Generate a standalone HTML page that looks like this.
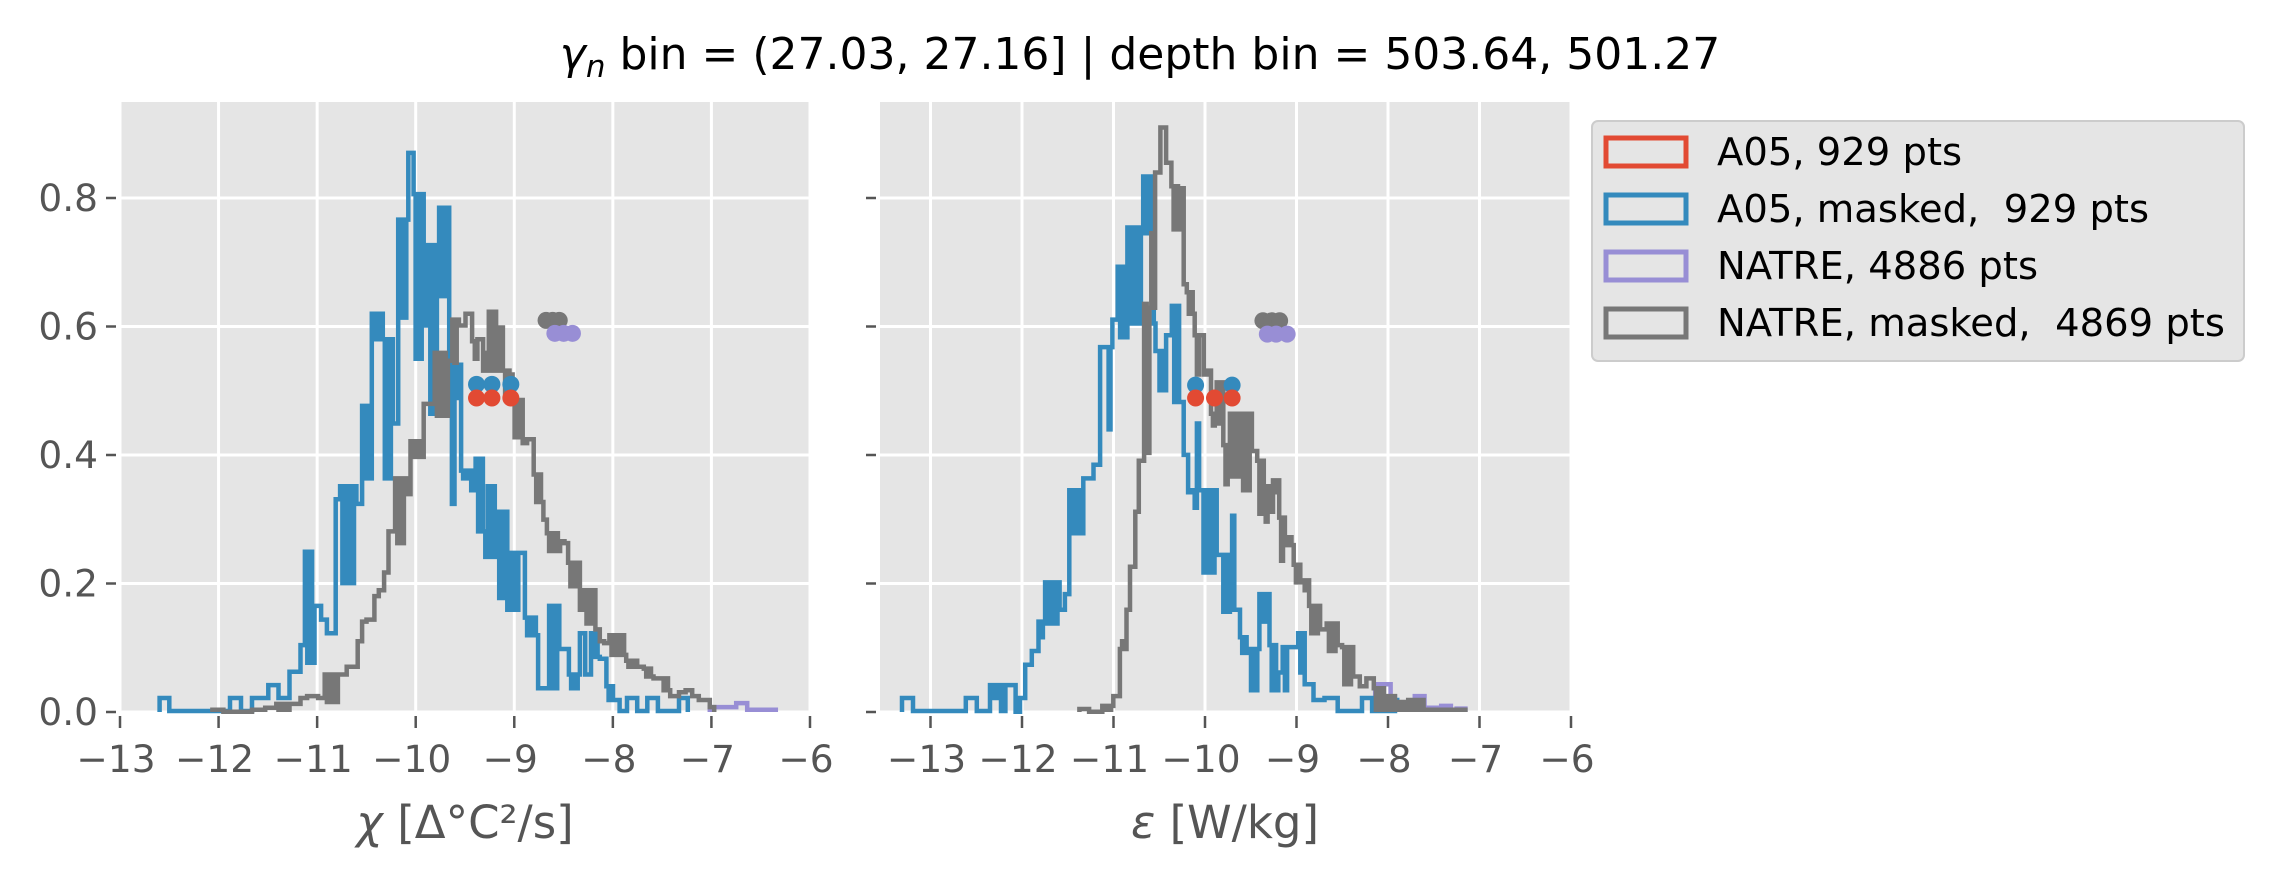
<!DOCTYPE html>
<html><head><meta charset="utf-8"><style>
html,body{margin:0;padding:0;background:#fff;}
svg{display:block;}
text{font-family:"DejaVu Sans","Liberation Sans",sans-serif;}
</style></head><body>
<svg id="s" width="2272" height="872" viewBox="0 0 2272 872" xmlns="http://www.w3.org/2000/svg">
<rect width="2272" height="872" fill="#fff"/>
<rect x="120" y="102" width="690" height="611" fill="#e5e5e5"/>
<rect x="880" y="102" width="691" height="611" fill="#e5e5e5"/>
<g id="grid" stroke="#fff" stroke-width="3"></g>
<g id="series"></g>
<g id="ticks" stroke="#555" stroke-width="2.5"></g>
<g id="labels" fill="#555" font-size="37.5"></g>
<text x="1140" y="69" font-size="44" fill="#000" text-anchor="middle"><tspan font-style="italic">γ</tspan><tspan font-style="italic" font-size="31" dy="8">n</tspan><tspan dy="-8"> bin = (27.03, 27.16] | depth bin = 503.64, 501.27</tspan></text>
<text x="465" y="838" font-size="45" fill="#555" text-anchor="middle"><tspan font-style="italic">χ</tspan> [Δ°C²/s]</text>
<text x="1225" y="838" font-size="45" fill="#555" text-anchor="middle"><tspan font-style="italic">ε</tspan> [W/kg]</text>
<rect x="1592" y="121" width="652" height="240" rx="6" fill="#e5e5e5" stroke="#cccccc" stroke-width="2"/>
<rect x="1606" y="138" width="80" height="28" fill="none" stroke="#e24a33" stroke-width="5"/>
<rect x="1606" y="195" width="80" height="28" fill="none" stroke="#348abd" stroke-width="5"/>
<rect x="1606" y="252" width="80" height="28" fill="none" stroke="#988ed5" stroke-width="5"/>
<rect x="1606" y="309" width="80" height="28" fill="none" stroke="#777777" stroke-width="5"/>
<g font-size="38.5" fill="#000">
<text x="1717" y="165">A05, 929 pts</text>
<text x="1717" y="222" xml:space="preserve">A05, masked,  929 pts</text>
<text x="1717" y="279">NATRE, 4886 pts</text>
<text x="1717" y="336" xml:space="preserve">NATRE, masked,  4869 pts</text>
</g>
</svg>
<script>
(function(){
var NS="http://www.w3.org/2000/svg";
function el(p,t,a){var e=document.createElementNS(NS,t);for(var k in a)e.setAttribute(k,a[k]);p.appendChild(e);return e;}
var grid=document.getElementById('grid'),ser=document.getElementById('series'),tk=document.getElementById('ticks'),lb=document.getElementById('labels');
function yf(v){return 712-v*642.5;}
function xl(v){return 120+(v+13)*98.57;}
function xr(v){return 1571-(-6-v)*91.5;}
var yt=[0,0.2,0.4,0.6,0.8];
[[xl,120,810],[xr,880,1571]].forEach(function(a,i){
  for(var v=-13;v<=-6;v++){var x=a[0](v);
    el(grid,'line',{x1:x,y1:102,x2:x,y2:713});
    el(tk,'line',{x1:x,y1:716,x2:x,y2:728});
    var t=el(lb,'text',{x:x-4,y:772,'text-anchor':'middle'});t.textContent='\u2212'+(-v);}
  yt.forEach(function(v){var y=yf(v);
    el(grid,'line',{x1:a[1],y1:y,x2:a[2],y2:y});
    el(tk,'line',{x1:a[1]-14,y1:y,x2:a[1]-4,y2:y});
    if(i==0){var t=el(lb,'text',{x:a[1]-22,y:y+13,'text-anchor':'end'});t.textContent=v.toFixed(1);}
  });
});
function build(segs,ox,sx,oy,sy){
  var d='',first=true;
  segs.forEach(function(s){
    var x0=s[0],x1=s[1],a=s[2],b=(s.length>3?s[3]:s[2]);
    var pts=[];
    if(a==b){pts.push([x0,a],[x1,a]);}
    else{var n=Math.max(2,Math.round((x1-x0)/5));var w=(x1-x0)/n;
      for(var k=0;k<n;k++){var y=(k%2==0)?a:b;pts.push([x0+k*w,y],[x0+(k+1)*w,y]);}}
    pts.forEach(function(p){var X=(ox+p[0]/sx).toFixed(1),Y=(oy+p[1]/sy).toFixed(1);
      if(first){d+='M'+X+' 712 L'+X+' '+Y;first=false;}else d+=' L'+X+' '+Y;});
  });
  var last=segs[segs.length-1];d+=' L'+(ox+last[1]/sx).toFixed(1)+' 712';
  return d;
}
function draw(segs,ox,color){
  el(ser,'path',{d:build(segs,ox,2.272,100,2.55),fill:'none',stroke:color,'stroke-width':4.5,'stroke-linejoin':'miter'});
}
var LB=[[90,112,1525],[112,250,1558],[250,275,1525],[275,300,1558],[300,337,1525],[337,360,1492],[360,385,1525],[385,410,1458],[410,420,1390],[420,442,1152,1435],[442,457,1290],[457,470,1325],[470,490,1360],[490,500,1018],[500,537,985,1232],[537,550,1030],[550,572,780,965],[572,597,545,610],[597,620,610,965],[620,632,825],[632,655,305,555],[655,667,135],[667,690,240,660],[690,700,575,440],[700,725,370,800],[725,748,275,500],[748,760,660,1030],[760,775,675,760],[775,798,945,965],[798,808,995],[808,830,915,1100],[830,857,1165,985],[857,880,1050,1270],[880,905,1300,1155],[905,920,1155],[920,950,1320,1365],[950,975,1500],[975,998,1290,1500],[998,1020,1400],[1020,1045,1465,1500],[1045,1057,1360],[1057,1070,1465],[1070,1090,1360,1420],[1090,1105,1425],[1105,1125,1495,1530],[1125,1135,1530],[1135,1152,1558],[1152,1175,1525],[1175,1198,1558],[1198,1222,1525],[1222,1270,1558],[1270,1290,1525]];
var LG=[[210,235,1555],[235,300,1560],[300,330,1555],[330,355,1550],[355,385,1540,1555],[385,410,1540],[410,425,1525],[425,450,1520],[450,465,1525],[465,495,1465,1535],[495,515,1465],[515,540,1445],[540,550,1380],[550,560,1330],[560,578,1325],[578,588,1265],[588,600,1250],[600,610,1205],[610,625,1100],[625,650,965,1130],[650,660,1005],[660,690,870,910],[690,715,775],[715,745,645,805],[745,755,665],[755,770,560,670],[770,785,575],[785,800,545],[800,812,615,660],[812,825,610],[825,838,690,645],[838,860,540,690],[860,870,580],[870,885,690,760],[885,892,700],[892,915,765,860],[915,925,875],[925,940,865],[940,962,955,1025],[962,970,1070],[970,1000,1105,1150],[1000,1010,1125],[1010,1018,1130],[1018,1045,1180,1240],[1045,1055,1300],[1055,1080,1250,1335],[1080,1090,1350],[1090,1100,1380],[1100,1112,1385],[1112,1150,1365,1415],[1150,1175,1430,1445],[1175,1190,1445],[1190,1212,1450,1470],[1212,1230,1475],[1230,1250,1475,1505],[1250,1270,1520],[1270,1285,1510],[1285,1300,1505],[1300,1315,1520],[1315,1340,1530],[1340,1350,1548]];
var LP=[[1340,1400,1548],[1400,1425,1538],[1425,1490,1555]];
var RB=[[50,75,1525],[75,195,1558],[195,220,1525],[220,250,1558],[250,275,1492,1525],[275,285,1558],[285,308,1492],[308,318,1560],[318,330,1525],[330,345,1440],[345,360,1405],[360,375,1330,1370],[375,408,1230,1335],[408,420,1300],[420,430,1260],[430,462,995,1105],[462,485,965],[485,500,930],[500,515,630],[515,528,630,840],[528,540,560],[540,562,425,605],[562,598,325,570],[598,622,195,340],[622,630,570,640],[630,650,640,740],[650,663,600],[663,685,525,770],[685,690,770],[690,700,905],[700,710,1000],[710,720,995,1040],[720,730,825,995],[730,765,995,1205],[765,775,1160],[775,800,1160,1305],[800,805,1060],[805,818,1300],[818,838,1370,1410],[838,862,1400,1505],[862,885,1260,1330],[885,905,1390,1505],[905,915,1460],[915,930,1395,1505],[930,950,1395],[950,965,1360,1460],[965,985,1490],[985,1010,1530],[1010,1040,1525],[1040,1095,1558],[1095,1118,1525],[1118,1140,1558],[1140,1175,1530,1558]];
var RG=[[453,475,1553],[475,505,1560],[505,530,1545,1555],[530,545,1520],[545,560,1400,1380],[560,568,1300],[568,580,1190],[580,588,1050],[588,600,920],[600,612,520,900],[612,625,530,340],[625,637,185],[637,650,70],[650,662,160],[662,682,220,330],[682,690,225],[690,697,470],[697,715,490,545],[715,730,600,700],[730,742,600,700],[742,752,690],[752,765,800,830],[765,780,720,825],[780,795,880,980],[795,820,800,960],[820,845,800,995],[845,857,895],[857,872,920,1055],[872,885,985,1075],[885,893,1050],[893,907,970,1000],[907,920,1065,1175],[920,940,1115,1135],[940,960,1185,1230],[960,975,1225,1250],[975,1000,1290,1360],[1000,1015,1350],[1015,1040,1335,1405],[1040,1050,1390],[1050,1075,1395,1490],[1075,1090,1470],[1090,1105,1495],[1105,1122,1475],[1122,1145,1500,1555],[1145,1170,1520,1555],[1170,1200,1535,1555],[1200,1240,1530,1555],[1240,1330,1555]];
var RP=[[1125,1160,1490],[1160,1215,1540],[1215,1237,1520],[1237,1275,1550],[1275,1297,1545],[1297,1310,1555],[1310,1330,1552]];
draw(LP,120,'#988ed5');draw(RP,880,'#988ed5');
draw(LB,120,'#348abd');draw(RB,880,'#348abd');
draw(LG,120,'#777777');draw(RG,880,'#777777');
function dots(list,ox,color){list.forEach(function(p){el(ser,'circle',{cx:ox+p[0]/2.272,cy:100+p[1]/2.55,r:8.5,fill:color});});}
dots([[968,562],[983,562],[998,562]],120,'#777777');
dots([[988,595],[1008,595],[1028,595]],120,'#988ed5');
dots([[810,725],[845,725],[888,725]],120,'#348abd');
dots([[810,760],[845,760],[888,760]],120,'#e24a33');
dots([[870,563],[890,563],[908,563]],880,'#777777');
dots([[880,597],[900,597],[925,597]],880,'#988ed5');
dots([[717,727],[800,727]],880,'#348abd');
dots([[717,760],[760,760],[800,760]],880,'#e24a33');
})();
</script>
</body></html>
